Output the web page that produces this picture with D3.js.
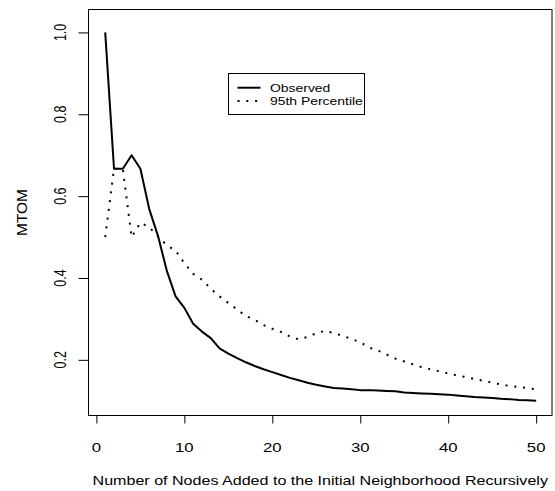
<!DOCTYPE html>
<html>
<head>
<meta charset="utf-8">
<script src="https://cdn.jsdelivr.net/npm/d3@7"></script>
<style>
  body { margin: 0; background: #fff; }
  text { font-family: 'Liberation Sans', Arial, sans-serif; fill: #000; }
</style>
</head>
<body>
<div id="chart"></div>
<script>
// number of nodes added (x)
const nodes = d3.range(1, 51)

const observed = [
  1.0, 0.667, 0.667, 0.7, 0.667, 0.569, 0.503, 0.418, 0.355, 0.327,
  0.288, 0.269, 0.253, 0.228, 0.215, 0.204, 0.194, 0.185, 0.177, 0.17,
  0.163, 0.156, 0.15, 0.144, 0.139, 0.135, 0.131, 0.13, 0.128, 0.126,
  0.126, 0.125, 0.124, 0.123, 0.12, 0.119, 0.118, 0.117, 0.116, 0.115,
  0.113, 0.111, 0.109, 0.108, 0.107, 0.105, 0.104, 0.102, 0.101, 0.1
]

const percentile95 = [
  0.5, 0.667, 0.667, 0.5, 0.535, 0.524, 0.502, 0.48, 0.467, 0.436,
  0.41, 0.396, 0.374, 0.355, 0.339, 0.323, 0.307, 0.298, 0.285, 0.276,
  0.268, 0.257, 0.25, 0.256, 0.265, 0.271, 0.265, 0.259, 0.251, 0.243,
  0.23, 0.223, 0.213, 0.203, 0.196, 0.189, 0.182, 0.177, 0.172, 0.167,
  0.162, 0.158, 0.153, 0.149, 0.144, 0.14, 0.136, 0.134, 0.131, 0.128
]

const xTicks = [0, 10, 20, 30, 40, 50]
const yTicks = [0.2, 0.4, 0.6, 0.8, 1.0]

const legendItems = [
  { label: 'Observed', dash: null },
  { label: '95th Percentile', dash: '2,6.8' }
]

const width = 555
const height = 491
const box = { left: 88.5, right: 552, top: 9.5, bottom: 415.5 }
const stretch = 1.34 // the picture is wider than it is tall, text is stretched

const svg = d3
  .select('#chart')
  .append('svg')
  .attr('width', width)
  .attr('height', height)

const xScale = d3
  .scaleLinear()
  .domain([-0.9, 51.8])
  .range([box.left, box.right])

const yScale = d3
  .scaleLinear()
  .domain([0.064, 1.056])
  .range([box.bottom, box.top])

// frame
svg
  .append('rect')
  .attr('x', box.left)
  .attr('y', box.top)
  .attr('width', box.right - box.left)
  .attr('height', box.bottom - box.top)
  .attr('fill', 'none')
  .attr('stroke', '#000')
  .attr('stroke-width', 1)

// x axis
const xAxis = svg
  .append('g')
  .attr('transform', `translate(0,${box.bottom})`)
  .call(d3.axisBottom(xScale).tickValues(xTicks).tickSize(8).tickFormat(''))
xAxis.select('.domain').remove()
xAxis.selectAll('line').attr('stroke', '#000')

svg
  .selectAll('.xlabel')
  .data(xTicks)
  .enter()
  .append('text')
  .attr('class', 'xlabel')
  .attr('transform', d => `translate(${xScale(d)},451.5) scale(${stretch},1)`)
  .attr('text-anchor', 'middle')
  .attr('font-size', 12.5)
  .text(d => d)

// y axis
const yAxis = svg
  .append('g')
  .attr('transform', `translate(${box.left},0)`)
  .call(d3.axisLeft(yScale).tickValues(yTicks).tickSize(10).tickFormat(''))
yAxis.select('.domain').remove()
yAxis.selectAll('line').attr('stroke', '#000')

svg
  .selectAll('.ylabel')
  .data(yTicks)
  .enter()
  .append('text')
  .attr('class', 'ylabel')
  .attr(
    'transform',
    d => `translate(65.5,${yScale(d)}) scale(${stretch},1) rotate(-90)`
  )
  .attr('text-anchor', 'middle')
  .attr('font-size', 12.5)
  .text(d => d3.format('.1f')(d))

// axis titles
svg
  .append('text')
  .attr(
    'transform',
    `translate(${(box.left + box.right) / 2},485) scale(${stretch},1)`
  )
  .attr('text-anchor', 'middle')
  .attr('font-size', 12)
  .text('Number of Nodes Added to the Initial Neighborhood Recursively')

svg
  .append('text')
  .attr('transform', `translate(26.5,${(box.top + box.bottom) / 2}) rotate(-90)`)
  .attr('text-anchor', 'middle')
  .attr('font-size', 15.5)
  .text('MTOM')

// lines
const line = d3
  .line()
  .x(d => xScale(d[0]))
  .y(d => yScale(d[1]))

svg
  .append('path')
  .datum(nodes.map((n, i) => [n, percentile95[i]]))
  .attr('d', line)
  .attr('fill', 'none')
  .attr('stroke', '#000')
  .attr('stroke-width', 2)
  .attr('stroke-dasharray', '2,6.8')

svg
  .append('path')
  .datum(nodes.map((n, i) => [n, observed[i]]))
  .attr('d', line)
  .attr('fill', 'none')
  .attr('stroke', '#000')
  .attr('stroke-width', 2)
  .attr('stroke-linejoin', 'round')

// legend
const legend = svg.append('g').attr('transform', 'translate(228.5,73.5)')

legend
  .append('rect')
  .attr('width', 136)
  .attr('height', 41)
  .attr('fill', '#fff')
  .attr('stroke', '#000')
  .attr('stroke-width', 1)

const items = legend
  .selectAll('.item')
  .data(legendItems)
  .enter()
  .append('g')
  .attr('class', 'item')
  .attr('transform', (d, i) => `translate(0,${14.2 + i * 13.3})`)

items
  .append('line')
  .attr('x1', 9)
  .attr('x2', 32)
  .attr('stroke', '#000')
  .attr('stroke-width', 2)
  .attr('stroke-dasharray', d => d.dash)

items
  .append('text')
  .attr('transform', `translate(41.5,4) scale(${stretch},1)`)
  .attr('font-size', 10.4)
  .text(d => d.label)
</script>
</body>
</html>
